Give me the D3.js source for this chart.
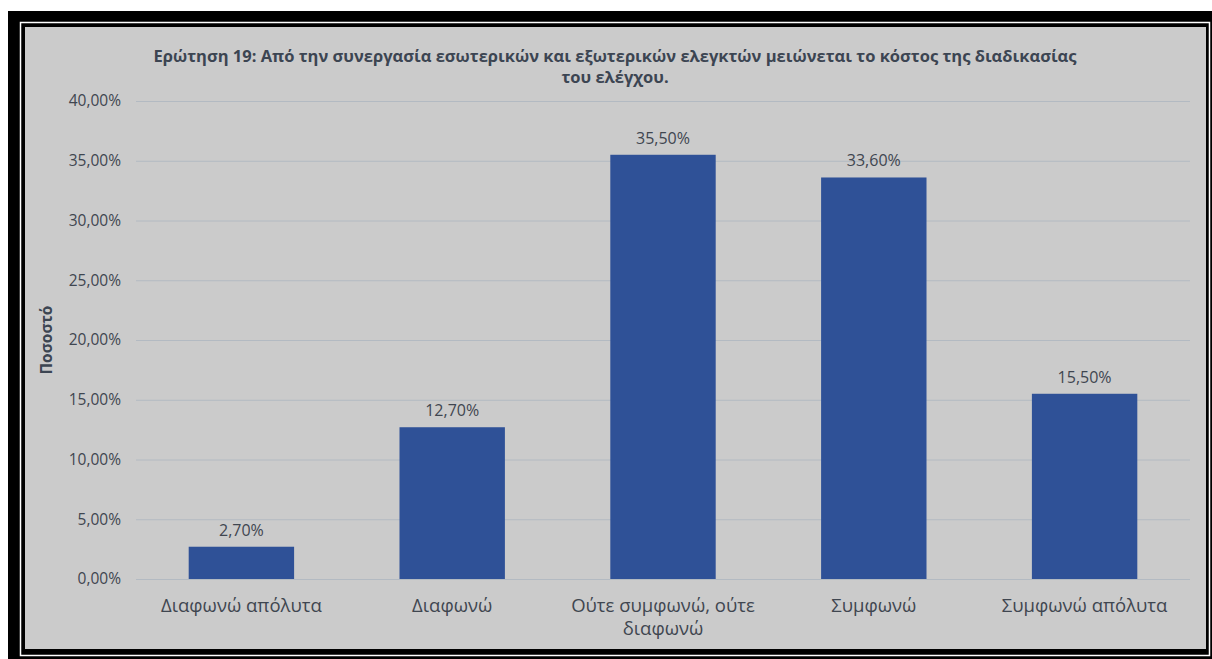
<!DOCTYPE html>
<html>
<head>
<meta charset="utf-8">
<script src="https://cdn.jsdelivr.net/npm/d3@7"></script>
<style>
  html, body { margin: 0; padding: 0; background: #ffffff; }
  svg { display: block; }
</style>
</head>
<body>
<svg id="chart" width="1212" height="659"></svg>
<script>
// Survey answers and their share of respondents
const categories = ["Διαφωνώ απόλυτα", "Διαφωνώ", "Ούτε συμφωνώ, ούτε διαφωνώ", "Συμφωνώ", "Συμφωνώ απόλυτα"];
const categoryLines = [["Διαφωνώ απόλυτα"], ["Διαφωνώ"], ["Ούτε συμφωνώ, ούτε", "διαφωνώ"], ["Συμφωνώ"], ["Συμφωνώ απόλυτα"]];
const values = [2.7, 12.7, 35.5, 33.6, 15.5];
const yTicks = [0, 5, 10, 15, 20, 25, 30, 35, 40];
const titleLines = [
  "Ερώτηση 19: Από την συνεργασία εσωτερικών και εξωτερικών ελεγκτών μειώνεται το κόστος της διαδικασίας",
  "του ελέγχου."
];
const yAxisTitle = "Ποσοστό";

const fmt = v => v.toFixed(2).replace(".", ",") + "%";

const svg = d3.select("#chart");
const font = "'Open Sans', 'Noto Sans', sans-serif";
const textColor = "#3f4650";

// Frame: black outer border, thin white rule, grey panel with inner shadow
const defs = svg.append("defs");
const shadow = defs.append("filter").attr("id", "inset")
  .attr("x", "0").attr("y", "0").attr("width", "1").attr("height", "1");
shadow.append("feFlood").attr("flood-color", "#000").attr("flood-opacity", 0.9);
shadow.append("feComposite").attr("in2", "SourceAlpha").attr("operator", "out");
shadow.append("feGaussianBlur").attr("stdDeviation", 3.5).attr("result", "blur");
shadow.append("feComposite").attr("in", "blur").attr("in2", "SourceAlpha").attr("operator", "in").attr("result", "inner");
const merge = shadow.append("feMerge");
merge.append("feMergeNode").attr("in", "SourceGraphic");
merge.append("feMergeNode").attr("in", "inner");

svg.append("rect").attr("x", 8).attr("y", 11).attr("width", 1204).attr("height", 648).attr("fill", "#000");
svg.append("rect").attr("x", 20.5).attr("y", 22.5).attr("width", 1189).attr("height", 633)
  .attr("fill", "none").attr("stroke", "#fff").attr("stroke-width", 1.5);
svg.append("rect").attr("x", 25).attr("y", 27).attr("width", 1181).attr("height", 622)
  .attr("fill", "#cbcbcb").attr("filter", "url(#inset)");

// Plot area
const margin = { left: 136, right: 1190, top: 101, bottom: 579 };
const x = d3.scaleBand().domain(categories).range([margin.left, margin.right]).paddingInner(0.5).paddingOuter(0.25);
const y = d3.scaleLinear().domain([0, 40]).range([margin.bottom, margin.top]);

// Gridlines and tick labels
const yAxis = d3.axisLeft(y).tickValues(yTicks).tickSize(-(margin.right - margin.left)).tickFormat(fmt).tickPadding(15);
const gy = svg.append("g").attr("transform", `translate(${margin.left},0)`).call(yAxis);
gy.select(".domain").remove();
gy.selectAll(".tick line").attr("stroke", "#b3bac2").attr("stroke-width", 1);
gy.selectAll(".tick text").attr("fill", textColor).attr("font-family", font).attr("font-size", 15.5);

// Bars
svg.append("g").selectAll("rect").data(values).join("rect")
  .attr("x", (d, i) => x(categories[i]))
  .attr("y", d => y(d))
  .attr("width", x.bandwidth())
  .attr("height", d => y(0) - y(d))
  .attr("fill", "#2f5197");

// Value labels
svg.append("g").selectAll("text").data(values).join("text")
  .attr("x", (d, i) => x(categories[i]) + x.bandwidth() / 2)
  .attr("y", d => y(d) - 11)
  .attr("text-anchor", "middle")
  .attr("fill", textColor).attr("font-family", font).attr("font-size", 16)
  .text(d => fmt(d));

// Category labels
const xl = svg.append("g").selectAll("text").data(categoryLines).join("text")
  .attr("x", (d, i) => x(categories[i]) + x.bandwidth() / 2)
  .attr("y", 612)
  .attr("text-anchor", "middle")
  .attr("fill", textColor).attr("font-family", font).attr("font-size", 18.5);
xl.selectAll("tspan").data(d => d).join("tspan")
  .attr("x", function () { return d3.select(this.parentNode).attr("x"); })
  .attr("dy", (d, i) => i === 0 ? 0 : 23)
  .text(d => d);

// Title
svg.append("g").selectAll("text").data(titleLines).join("text")
  .attr("x", 615)
  .attr("y", (d, i) => 62 + i * 21)
  .attr("text-anchor", "middle")
  .attr("fill", "#3c4552").attr("font-family", font).attr("font-weight", "bold").attr("font-size", 16.5)
  .text(d => d);

// Y axis title
svg.append("text")
  .attr("transform", `translate(52,${(margin.top + margin.bottom) / 2}) rotate(-90)`)
  .attr("text-anchor", "middle")
  .attr("fill", "#3c4552").attr("font-family", font).attr("font-weight", "bold").attr("font-size", 15.5)
  .text(yAxisTitle);
</script>
</body>
</html>
